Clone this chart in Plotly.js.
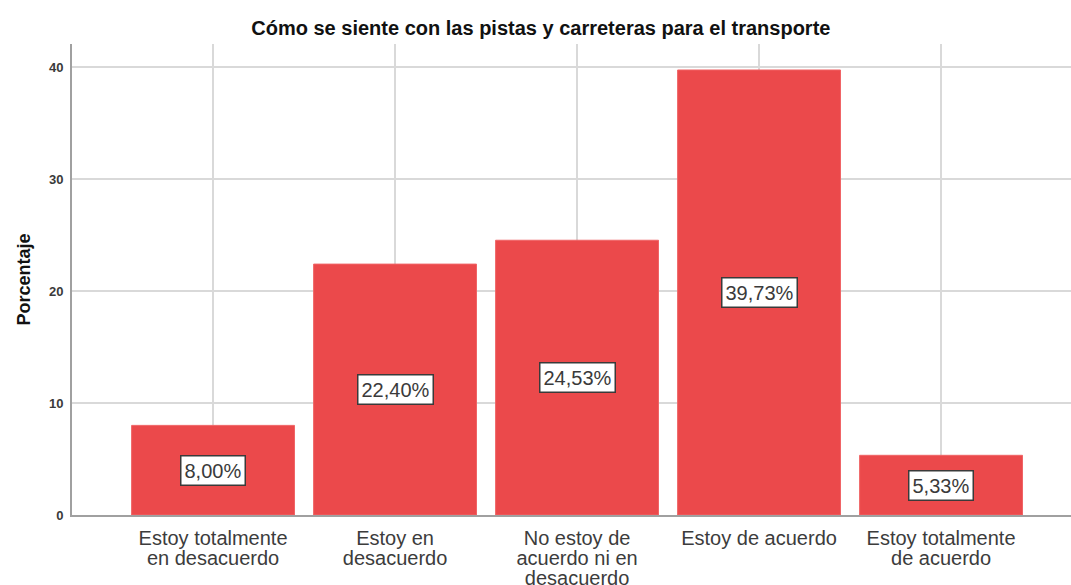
<!DOCTYPE html>
<html>
<head>
<meta charset="utf-8">
<script src="https://cdn.plot.ly/plotly-3.0.1.min.js"></script>
<style>html,body{margin:0;padding:0;background:#fff;}#chart{width:1071px;height:585px;}</style>
</head>
<body>
<div id="chart"></div>
<script>
const categories = [
  "Estoy totalmente<br>en desacuerdo",
  "Estoy en<br>desacuerdo",
  "No estoy de<br>acuerdo ni en<br>desacuerdo",
  "Estoy de acuerdo",
  "Estoy totalmente<br>de acuerdo"
];
const percentages = [8.00, 22.40, 24.53, 39.73, 5.33];
const labels = ["8,00%", "22,40%", "24,53%", "39,73%", "5,33%"];
const yTicks = [0, 10, 20, 30, 40];

const FONT = 'Liberation Sans, Arial, sans-serif';

const trace = {
  type: 'bar',
  x: categories.map((c, i) => i),
  y: percentages,
  marker: {color: '#EB494B', line: {color: '#F06466', width: 1}},
  hoverinfo: 'none'
};

const annotations = percentages.map((v, i) => ({
  x: i, y: v / 2, xref: 'x', yref: 'y',
  text: labels[i], showarrow: false,
  bgcolor: '#ffffff', bordercolor: '#3a3a3a', borderwidth: 1.5, borderpad: 3,
  font: {family: FONT, size: 20, color: '#3a3a3a'}
}));

const layout = {
  width: 1071, height: 585,
  margin: {l: 72, r: 0, t: 44, b: 70},
  paper_bgcolor: '#ffffff', plot_bgcolor: '#ffffff',
  showlegend: false,
  bargap: 0.105,
  title: {
    text: 'Cómo se siente con las pistas y carreteras para el transporte',
    font: {family: FONT, size: 20, color: '#111111', weight: 'bold'},
    x: 0.505, xanchor: 'center', y: 0.952, yanchor: 'middle'
  },
  xaxis: {
    range: [-0.775, 4.714],
    tickmode: 'array', tickvals: [0, 1, 2, 3, 4], ticktext: categories,
    showgrid: true, gridcolor: '#d9d9d9', gridwidth: 1.5,
    showline: true, linecolor: '#a0a0a0', linewidth: 2,
    ticks: '', ticklabelstandoff: 4,
    tickfont: {family: FONT, size: 20, color: '#3c3c3c'},
    zeroline: false, fixedrange: true
  },
  yaxis: {
    range: [0, 42.05],
    tickmode: 'array', tickvals: yTicks, ticktext: yTicks.map(String),
    showgrid: true, gridcolor: '#d9d9d9', gridwidth: 1.5,
    showline: true, linecolor: '#a0a0a0', linewidth: 2,
    ticks: '', ticklabelstandoff: 4,
    tickfont: {family: FONT, size: 13, color: '#3a3a3a', weight: 'bold'},
    zeroline: false, fixedrange: true,
    title: {
      text: 'Porcentaje', standoff: 14,
      font: {family: FONT, size: 18, color: '#111111', weight: 'bold'}
    }
  },
  annotations: annotations
};

function tightenLines() {
  document.querySelectorAll('.xtick text').forEach(t => {
    t.querySelectorAll('tspan.line').forEach((ln, i) => {
      ln.setAttribute('dy', (i * 1.0) + 'em');
    });
  });
}

const gd = document.getElementById('chart');
Plotly.newPlot(gd, [trace], layout, {displayModeBar: false, staticPlot: true}).then(() => {
  tightenLines();
  gd.on('plotly_afterplot', tightenLines);
});
</script>
</body>
</html>
